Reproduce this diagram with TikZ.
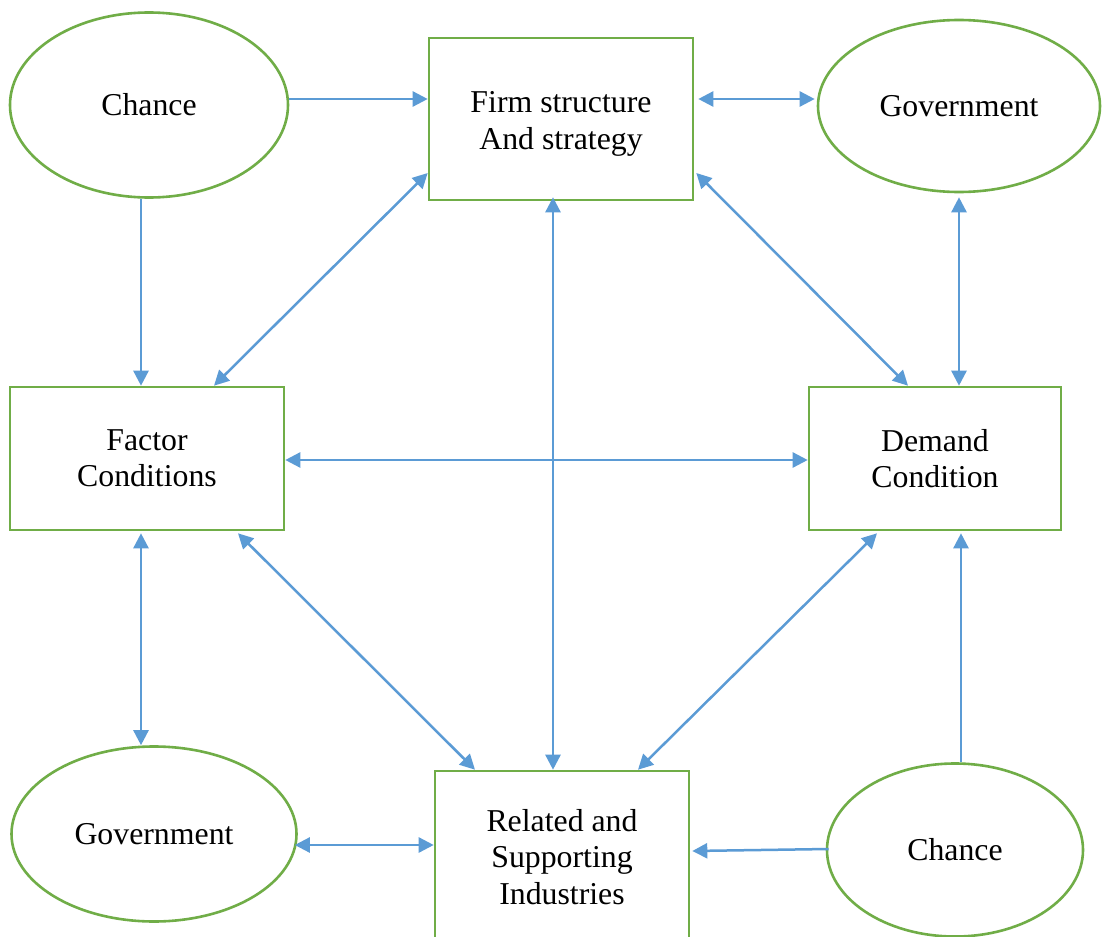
\documentclass[tikz,border=0pt]{standalone}
\usepackage{fontspec}
\setmainfont{Liberation Serif}
\usetikzlibrary{shapes.geometric,arrows.meta}
\definecolor{bgreen}{HTML}{70AD47}
\definecolor{lblue}{HTML}{5B9BD5}
\begin{document}
\begin{tikzpicture}[x=0.5pt,y=-0.5pt,
  every node/.style={font=\fontsize{15.9pt}{18.2pt}\selectfont, align=center, inner sep=0pt},
  boxnode/.style={draw=bgreen, line width=1.3pt, rectangle},
  ellnode/.style={draw=bgreen, line width=1.3pt, ellipse},
  sarr/.style={draw=lblue, line width=1.25pt, -{Triangle[length=7.5pt,width=7.5pt]}},
  darr/.style={draw=lblue, line width=1.25pt, {Triangle[length=7.5pt,width=7.5pt]}-{Triangle[length=7.5pt,width=7.5pt]}}]
\clip (0,0) rectangle (1104,937);
\fill[white] (0,0) rectangle (1104,937);
% nodes
\node[ellnode, minimum width=139pt, minimum height=92.5pt] (chance1) at (149,105) {Chance};
\node[boxnode, minimum width=132pt, minimum height=81pt] (firm) at (561,119) {};
\node at (561,124) {Firm structure\\And strategy};
\node[ellnode, minimum width=141pt, minimum height=86pt] (gov1) at (959,106) {Government};
\node[boxnode, minimum width=137pt, minimum height=71.5pt] (factor) at (147,458.5) {Factor\\Conditions};
\node[boxnode, minimum width=126pt, minimum height=71.5pt] (demand) at (935,458.5) {Demand\\Condition};
\node[ellnode, minimum width=142.5pt, minimum height=87.5pt] (gov2) at (154,834) {Government};
\node[boxnode, minimum width=127pt, minimum height=86pt] (related) at (562,857) {Related and\\Supporting\\Industries};
\node[ellnode, minimum width=128pt, minimum height=86.5pt] (chance2) at (955,850) {Chance};
% connectors
\draw[sarr] ([yshift=3pt]chance1.east) -- ([yshift=10pt]firm.west);
\draw[darr] ([yshift=10pt,xshift=2pt]firm.east) -- ([yshift=3.5pt,xshift=-1pt]gov1.west);
\draw[sarr] ([xshift=-4pt]chance1.south) -- ([xshift=-3pt]factor.north);
\draw[darr] ([xshift=33.5pt]factor.north) -- ([yshift=-27pt]firm.west);
\draw[darr] ([xshift=-4pt,yshift=2pt]firm.south) -- ([xshift=-4.5pt]related.north);
\draw[darr] ([xshift=1pt,yshift=-27pt]firm.east) -- ([xshift=-13.5pt]demand.north);
\draw[darr] ([yshift=-2pt]gov1.south) -- ([xshift=12pt]demand.north);
\draw[darr] ([yshift=-0.75pt]factor.east) -- ([yshift=-0.75pt]demand.west);
\draw[darr] ([xshift=-3pt,yshift=-1pt]factor.south) -- ([xshift=-6.5pt]gov2.north);
\draw[darr] ([xshift=45.5pt,yshift=-1pt]factor.south) -- ([xshift=-43.5pt]related.north);
\draw[darr] ([xshift=-29pt,yshift=-1pt]demand.south) -- ([xshift=38pt]related.north);
\draw[sarr] ([xshift=3pt]chance2.north) -- ([xshift=13pt,yshift=-1pt]demand.south);
\draw[sarr] ([xshift=1.5pt,yshift=0.5pt]chance2.west) -- ([xshift=1pt,yshift=3pt]related.east);
\draw[darr] ([yshift=-5.5pt,xshift=-1.5pt]gov2.east) -- ([yshift=6pt]related.west);
\end{tikzpicture}
\end{document}
